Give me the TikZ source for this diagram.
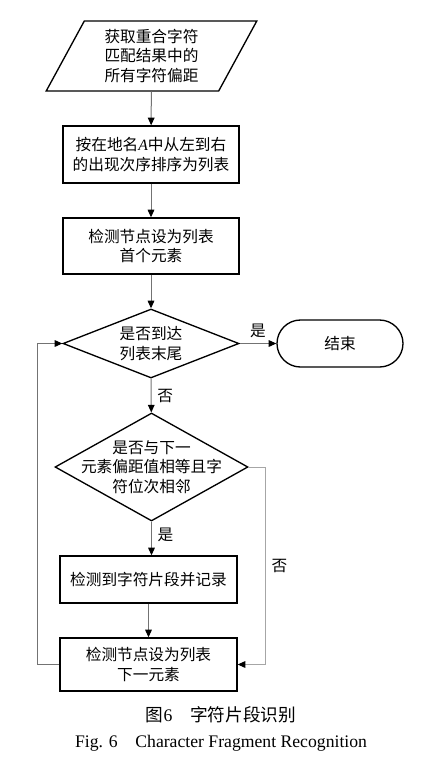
\documentclass[tikz,border=0pt]{standalone}
\usepackage{fontspec}
\setmainfont{Liberation Serif}
\newfontfamily\cjk{Noto Sans CJK SC}
\usetikzlibrary{shapes.geometric,shapes.misc,arrows.meta}

\begin{document}
\begin{tikzpicture}[x=0.6pt,y=-0.6pt,
		>={Triangle[length=4.6pt,width=4pt,color=black]},
		txt/.style={font=\cjk\fontsize{9.4}{11.6}\selectfont,align=center},
		proc/.style={txt,draw,line width=0.8pt,rectangle,inner sep=0pt},
		io/.style={txt,draw,line width=0.8pt,trapezium,trapezium left angle=63.4,trapezium right angle=116.6,trapezium stretches=true,inner sep=0pt},
		dec/.style={draw,line width=0.8pt,diamond,inner sep=0pt},
		term/.style={txt,draw,line width=0.8pt,rounded rectangle,inner sep=0pt},
		flow/.style={draw=black!55,line width=0.6pt,->},
		lbl/.style={font=\cjk\fontsize{9.4}{11.6}\selectfont}]
		\useasboundingbox (0,0) rectangle (445,762);
		
		% boxes
		\node[io,minimum width=126.6pt,minimum height=42pt] (input) at (151.5,56) {获取重合字符\\匹配结果中的\\所有字符偏距};
		\node[proc,minimum width=105.6pt,minimum height=34.2pt] (sort) at (151,154.5) {按在地名{\normalfont\itshape A}中从左到右\\的出现次序排序为列表};
		\node[proc,minimum width=105.6pt,minimum height=33.6pt] (first) at (151,246) {检测节点设为列表\\首个元素};
		\node[dec,minimum width=105.6pt,minimum height=41.4pt,label={[txt]center:是否到达\\列表末尾}] (isend) at (151,343.5) {};
		\node[term,minimum width=75.6pt,minimum height=28.2pt] (stop) at (340,343.5) {结束};
		\node[dec,minimum width=115.8pt,minimum height=64.8pt,label={[txt]center:是否与下一\\元素偏距值相等且字\\符位次相邻}] (same) at (151.5,467) {};
		\node[proc,minimum width=106.2pt,minimum height=28.2pt] (record) at (148.5,579.5) {检测到字符片段并记录};
		\node[proc,minimum width=106.2pt,minimum height=31.8pt] (next) at (148.5,664.5) {检测节点设为列表\\下一元素};
		
		% arrows
		\draw[flow] (input) -- (sort);
		\draw[flow] (sort) -- (first);
		\draw[flow] (first) -- (isend);
		\draw[flow] (isend) -- node[lbl,above] (yesend) {是} (stop);
		\draw[flow] (isend) -- node[lbl,right] (noend) {否} (same);
		\draw[flow] (same) -- node[lbl,right,pos=0.4] (yessame) {是} (same |- record.north);
		\draw[flow] (record) -- (next);
		\draw[flow,draw=black!35] (same.east) -- ++(17,0) |- node[lbl,right,pos=0.25] (nosame) {否} (next.east);
		\draw[flow] (next.west) -- ++(-22,0) |- (isend.west);
		
		% caption
		\node[font=\cjk\fontsize{10.6}{12}\selectfont] (capcn) at (221,715) {图{\rmfamily 6}\quad 字符片段识别};
		\node[font=\fontsize{10.6}{12}\selectfont] (capen) at (221,743) {Fig. 6\quad Character Fragment Recognition};
	\end{tikzpicture}
\end{document}
